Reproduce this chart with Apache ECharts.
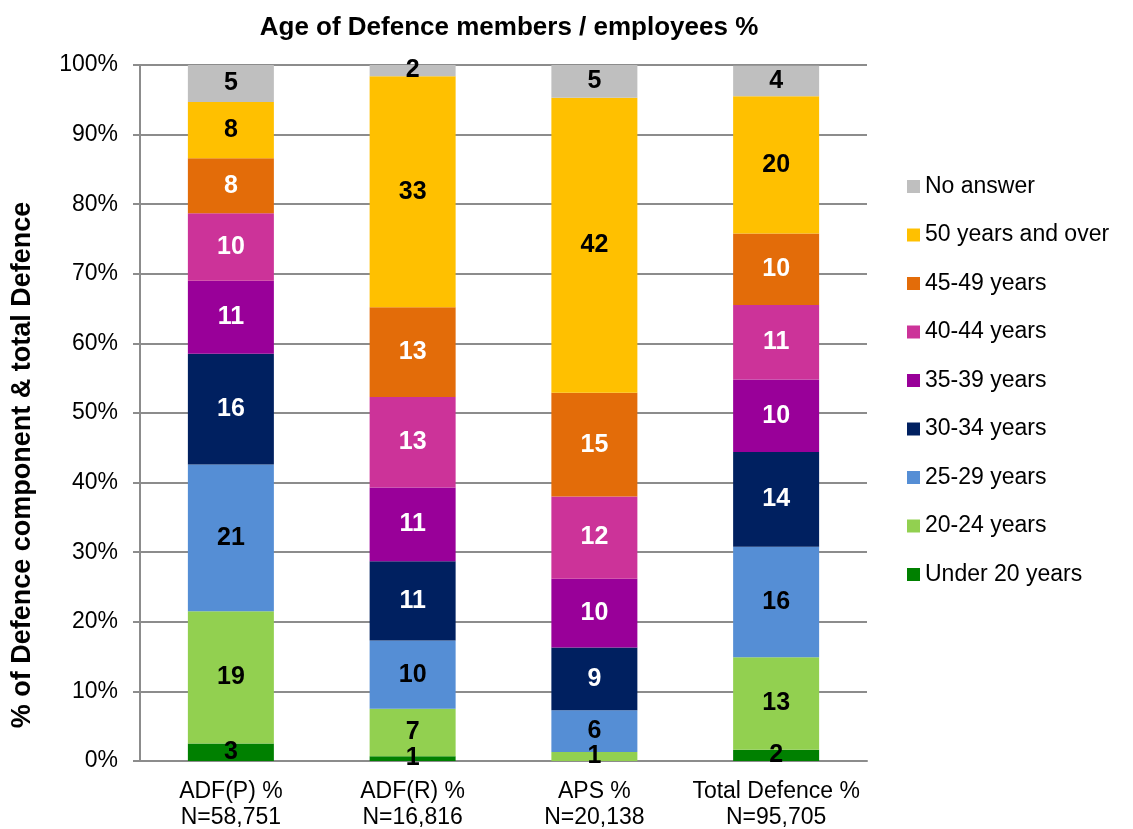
<!DOCTYPE html>
<html>
<head>
<meta charset="utf-8">
<title>Age of Defence members / employees %</title>
<script src="https://cdn.jsdelivr.net/npm/echarts@6/dist/echarts.min.js"></script>
<style>
  html, body { margin: 0; padding: 0; background: #fff; }
  #chart { width: 1133px; height: 829px; }
</style>
</head>
<body>
<div id="chart"></div>
<script>
// categories (x axis)
const categories = ['ADF(P) %\nN=58,751', 'ADF(R) %\nN=16,816', 'APS %\nN=20,138', 'Total Defence %\nN=95,705'];

// % per age group (labels show rounded values)
const under20   = [2.5, 0.7, 0, 1.6];
const age20_24  = [19.0, 6.8, 1.3, 13.3];
const age25_29  = [21.1, 9.8, 6.0, 15.9];
const age30_34  = [15.9, 11.4, 9.0, 13.6];
const age35_39  = [10.5, 10.6, 9.9, 10.4];
const age40_44  = [9.7, 13.0, 11.8, 10.7];
const age45_49  = [7.9, 12.9, 14.9, 10.3];
const age50plus = [8.1, 33.2, 42.4, 19.7];
const noAnswer  = [5.3, 1.6, 4.7, 4.4];

const FONT = "'Liberation Sans', Arial, sans-serif";

// name, data, colour, label colour
const groups = [
  ['Under 20 years', under20, '#008000', '#000'],
  ['20-24 years', age20_24, '#92D050', '#000'],
  ['25-29 years', age25_29, '#558ED5', '#000'],
  ['30-34 years', age30_34, '#002060', '#fff'],
  ['35-39 years', age35_39, '#990099', '#fff'],
  ['40-44 years', age40_44, '#CC3399', '#fff'],
  ['45-49 years', age45_49, '#E36C09', '#fff'],
  ['50 years and over', age50plus, '#FFC000', '#000'],
  ['No answer', noAnswer, '#BFBFBF', '#000']
];

const series = groups.map(function (g) {
  return {
    name: g[0],
    type: 'bar',
    stack: 'total',
    barWidth: 86,
    data: g[1],
    itemStyle: { color: g[2] },
    label: {
      show: true,
      position: 'inside',
      color: g[3],
      fontFamily: FONT,
      fontWeight: 'bold',
      fontSize: 25,
      formatter: function (p) { return p.value > 0 ? Math.round(p.value) : ''; }
    }
  };
});

const chart = echarts.init(document.getElementById('chart'));
chart.setOption({
  animation: false,
  backgroundColor: '#fff',
  title: {
    text: 'Age of Defence members / employees %',
    left: 504,
    top: 10,
    textAlign: 'center',
    textStyle: { fontFamily: FONT, fontWeight: 'bold', fontSize: 26, color: '#000' }
  },
  legend: {
    data: groups.map(function (g) { return g[0]; }).reverse(),
    orient: 'vertical',
    left: 907,
    top: 175,
    padding: 0,
    icon: 'rect',
    itemWidth: 13,
    itemHeight: 13,
    itemGap: 25.5,
    textStyle: { fontFamily: FONT, fontSize: 23, color: '#000', lineHeight: 23 }
  },
  grid: { left: 140, right: 266, top: 65, bottom: 68, outerBoundsMode: 'none' },
  xAxis: {
    type: 'category',
    data: categories,
    axisLine: { lineStyle: { color: '#8c8c8c', width: 2 } },
    axisTick: { show: false },
    axisLabel: { interval: 0, fontFamily: FONT, fontSize: 23, color: '#000', lineHeight: 26, margin: 18 }
  },
  yAxis: {
    type: 'value',
    min: 0,
    max: 100,
    interval: 10,
    axisLine: { show: true, lineStyle: { color: '#8c8c8c', width: 2 } },
    axisTick: { show: true, length: 7, lineStyle: { color: '#8c8c8c', width: 2 } },
    axisLabel: { formatter: '{value}%', fontFamily: FONT, fontSize: 23, color: '#000', margin: 22 },
    splitLine: { lineStyle: { color: '#8c8c8c', width: 2 } }
  },
  graphic: [{
    type: 'text',
    x: 23,
    y: 465,
    rotation: Math.PI / 2,
    style: {
      text: '% of Defence component & total Defence',
      font: 'bold 27px ' + FONT,
      fill: '#000',
      textAlign: 'center',
      textVerticalAlign: 'middle'
    }
  }],
  series: series
});
</script>
</body>
</html>
